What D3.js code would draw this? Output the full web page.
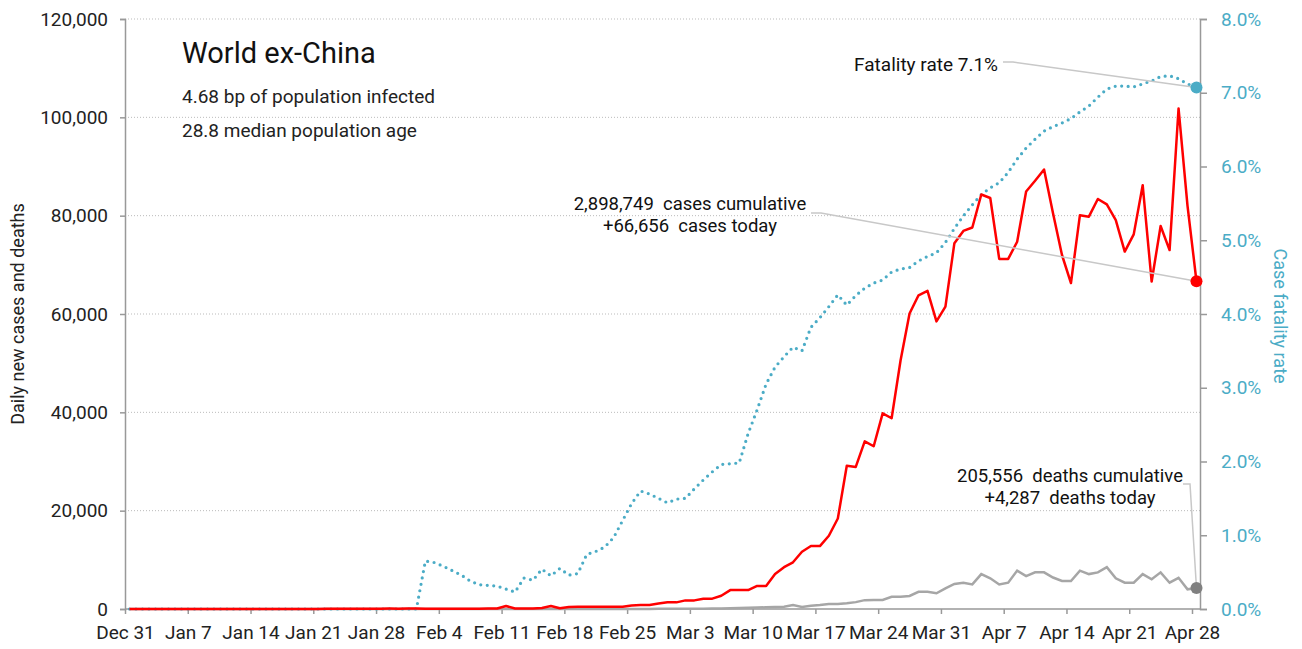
<!DOCTYPE html>
<html>
<head>
<meta charset="utf-8">
<script src="https://cdn.jsdelivr.net/npm/d3@7"></script>
<style>
  body { margin: 0; background: #fff; }
  svg text { font-family: "Roboto", "Liberation Sans", sans-serif; }
</style>
</head>
<body>
<svg id="chart" width="1302" height="649"></svg>
<script>
// day 0 = Dec 31 2019, one value per day through Apr 28 2020
var startDate = new Date(2019, 11, 31);

var newCases = [
  0, 0, 0, 0, 0, 0, 0, 0, 0, 0,
  0, 0, 0, 0, 10, 0, 0, 10, 0, 10,
  20, 20, 30, 30, 40, 40, 50, 60, 70, 80,
  60, 80, 90, 70, 60, 50, 60, 70, 60, 70,
  100, 100, 600, 100, 100, 100, 200, 600, 150, 400,
  450, 450, 450, 450, 450, 450, 700, 800, 800, 1100,
  1350, 1350, 1750, 1750, 2100, 2100, 2700, 3850, 3850, 3850,
  4700, 4700, 7100, 8500, 9500, 11650, 12800, 12800, 14900, 18400,
  29150, 28900, 34100, 33100, 39800, 38800, 50600, 60100, 63800, 64700,
  58500, 61500, 74400, 76900, 77600, 84300, 83600, 71200, 71200, 74700,
  84900, 87100, 89400, 80500, 72000, 66300, 80100, 79800, 83400, 82300,
  79100, 72700, 76200, 86200, 66600, 77900, 73000, 101800, 82000, 66656
];

var newDeaths = [
  0, 0, 0, 0, 0, 0, 0, 0, 0, 0,
  0, 0, 0, 0, 0, 0, 0, 0, 0, 0,
  0, 0, 0, 0, 0, 0, 0, 0, 0, 0,
  0, 0, 0, 1, 0, 0, 0, 0, 0, 0,
  0, 1, 0, 0, 1, 0, 1, 2, 2, 3,
  3, 5, 5, 8, 10, 12, 15, 20, 25, 30,
  35, 40, 50, 55, 70, 90, 120, 150, 200, 250,
  300, 350, 400, 470, 800, 400, 650, 800, 1000, 1000,
  1150, 1400, 1800, 1850, 1850, 2500, 2500, 2650, 3500, 3500,
  3200, 4200, 5100, 5350, 5000, 7100, 6250, 5000, 5350, 7800,
  6700, 7450, 7450, 6400, 5700, 5700, 7800, 7100, 7450, 8500,
  6250, 5350, 5350, 7100, 6050, 7450, 5350, 6350, 4000, 4287
];

// case fatality rate, %
var fatalityRate = [
  0, 0, 0, 0, 0, 0, 0, 0, 0, 0,
  0, 0, 0, 0, 0, 0, 0, 0, 0, 0,
  0, 0, 0, 0, 0, 0, 0, 0, 0, 0,
  0, 0, 0, 0.65, 0.63, 0.58, 0.52, 0.46, 0.38, 0.33,
  0.32, 0.31, 0.27, 0.23, 0.42, 0.39, 0.54, 0.45, 0.55, 0.46,
  0.48, 0.74, 0.78, 0.84, 0.97, 1.2, 1.43, 1.60, 1.56, 1.50,
  1.44, 1.49, 1.50, 1.63, 1.75, 1.86, 1.96, 1.97, 1.98, 2.38,
  2.70, 3.05, 3.28, 3.42, 3.55, 3.50, 3.82, 3.95, 4.10, 4.26,
  4.12, 4.25, 4.35, 4.42, 4.46, 4.57, 4.61, 4.63, 4.72, 4.78,
  4.83, 4.97, 5.16, 5.33, 5.48, 5.62, 5.71, 5.78, 5.92, 6.10,
  6.25, 6.37, 6.48, 6.54, 6.59, 6.65, 6.74, 6.82, 6.94, 7.05,
  7.09, 7.09, 7.08, 7.12, 7.16, 7.22, 7.23, 7.19, 7.12, 7.07
];

var leftTicks = [0, 20000, 40000, 60000, 80000, 100000, 120000];
var rightTicks = [0, 1, 2, 3, 4, 5, 6, 7, 8];
var tickDays = d3.range(0, 120, 7);

var title = "World ex-China";
var subtitles = ["4.68 bp of population infected", "28.8 median population age"];
var casesNote = ["2,898,749  cases cumulative", "+66,656  cases today"];
var deathsNote = ["205,556  deaths cumulative", "+4,287  deaths today"];
var rateNote = "Fatality rate 7.1%";

var svg = d3.select("#chart");
var plotL = 125, plotR = 1200, plotT = 19, plotB = 609;

function dayDate(i, h) { return new Date(2019, 11, 31 + i, h || 0); }

var x = d3.scaleTime()
  .domain([startDate, dayDate(119)])
  .range([plotL, 1192]);
var y = d3.scaleLinear().domain([0, 120000]).range([plotB, plotT]);
var yr = d3.scaleLinear().domain([0, 8]).range([plotB, plotT]);

var blue = "#4bacc6", red = "#ff0000", grey = "#a6a6a6", axisGrey = "#999";

// grid
svg.append("g").selectAll("line")
  .data(leftTicks.filter(function(d) { return d > 0; }))
  .enter().append("line")
    .attr("x1", plotL).attr("x2", plotR)
    .attr("y1", function(d) { return y(d); })
    .attr("y2", function(d) { return y(d); })
    .attr("stroke", "#bbb")
    .attr("stroke-dasharray", "1,2");

// left axis
var gl = svg.append("g").attr("transform", "translate(" + plotL + ",0)")
  .call(d3.axisLeft(y).tickValues(leftTicks).tickSize(5).tickPadding(12)
    .tickFormat(d3.format(",")));
gl.select(".domain").attr("stroke", axisGrey).attr("stroke-width", 1.5);
gl.selectAll(".tick line").attr("stroke", axisGrey).attr("stroke-width", 1.5);
gl.selectAll("text").attr("font-size", 19).attr("fill", "#222");

// right axis
var gr = svg.append("g").attr("transform", "translate(" + plotR + ",0)")
  .call(d3.axisRight(yr).tickValues(rightTicks).tickSize(7).tickPadding(14)
    .tickFormat(function(d) { return d.toFixed(1) + "%"; }));
gr.select(".domain").attr("stroke", axisGrey).attr("stroke-width", 1.5);
gr.selectAll(".tick line").attr("stroke", axisGrey).attr("stroke-width", 1.5);
gr.selectAll("text").attr("font-size", 19).attr("fill", blue);

// bottom axis
var gb = svg.append("g").attr("transform", "translate(0," + plotB + ")")
  .call(d3.axisBottom(x).tickValues(tickDays.map(function(i) { return dayDate(i); }))
    .tickSize(5).tickPadding(12).tickFormat(d3.timeFormat("%b %-d")));
gb.select(".domain").attr("stroke", axisGrey).attr("stroke-width", 1.5)
  .attr("d", "M" + plotL + ",0H" + plotR);
gb.selectAll(".tick line").attr("stroke", axisGrey).attr("stroke-width", 1.5);
gb.selectAll("text").attr("font-size", 19).attr("fill", "#222");

// axis titles
svg.append("text")
  .attr("transform", "translate(24,314) rotate(-90)")
  .attr("text-anchor", "middle").attr("font-size", 18).attr("fill", "#222")
  .text("Daily new cases and deaths");
svg.append("text")
  .attr("transform", "translate(1274,316) rotate(90)")
  .attr("text-anchor", "middle").attr("font-size", 18).attr("fill", blue)
  .text("Case fatality rate");

// lines
var idx = d3.range(120);
var lineCases = d3.line().x(function(i) { return x(dayDate(i, 12)); }).y(function(i) { return y(newCases[i]); });
var lineDeaths = d3.line().x(function(i) { return x(dayDate(i, 12)); }).y(function(i) { return y(newDeaths[i]); });
var lineRate = d3.line().x(function(i) { return x(dayDate(i, 12)); }).y(function(i) { return yr(fatalityRate[i]); });

svg.append("path").datum(idx).attr("d", lineDeaths)
  .attr("fill", "none").attr("stroke", grey).attr("stroke-width", 2.5);
svg.append("path").datum(idx).attr("d", lineRate)
  .attr("fill", "none").attr("stroke", blue).attr("stroke-width", 3.2)
  .attr("stroke-linecap", "round").attr("stroke-dasharray", "0,6.5");
svg.append("path").datum(idx).attr("d", lineCases)
  .attr("fill", "none").attr("stroke", red).attr("stroke-width", 2.5)
  .attr("stroke-linejoin", "round");

// annotation leaders + end dots
var lastX = x(dayDate(119, 12));
function leader(x0, y0, x1, y1) {
  svg.append("path")
    .attr("d", "M" + x0 + "," + y0 + "H" + (x0 + 10) + "L" + x1 + "," + y1)
    .attr("fill", "none").attr("stroke", "#c8c8c8").attr("stroke-width", 1.5);
}
leader(1003, 62, lastX, yr(fatalityRate[119]));
leader(811, 213, lastX, y(newCases[119]));
svg.append("path")
  .attr("d", "M1183,484H1190L" + lastX + "," + y(newDeaths[119]))
  .attr("fill", "none").attr("stroke", "#c8c8c8").attr("stroke-width", 1.5);

svg.append("circle").attr("cx", lastX).attr("cy", yr(fatalityRate[119])).attr("r", 6).attr("fill", blue);
svg.append("circle").attr("cx", lastX).attr("cy", y(newCases[119])).attr("r", 6).attr("fill", red);
svg.append("circle").attr("cx", lastX).attr("cy", y(newDeaths[119])).attr("r", 6).attr("fill", "#808080");

// texts
svg.append("text").attr("x", 182).attr("y", 63).attr("font-size", 29).attr("fill", "#111").text(title);
svg.selectAll(".sub").data(subtitles).enter().append("text")
  .attr("x", 182).attr("y", function(d, i) { return 103 + i * 34; })
  .attr("font-size", 19).attr("fill", "#222").text(function(d) { return d; });

svg.append("text").attr("x", 998).attr("y", 71).attr("text-anchor", "end")
  .attr("font-size", 19).attr("fill", "#111").text(rateNote);
svg.selectAll(".cn").data(casesNote).enter().append("text")
  .attr("x", 690).attr("y", function(d, i) { return 210 + i * 22; })
  .attr("text-anchor", "middle").attr("font-size", 18.5).attr("fill", "#111")
  .attr("xml:space", "preserve").text(function(d) { return d; });
svg.selectAll(".dn").data(deathsNote).enter().append("text")
  .attr("x", 1070).attr("y", function(d, i) { return 482 + i * 22; })
  .attr("text-anchor", "middle").attr("font-size", 18.5).attr("fill", "#111")
  .attr("xml:space", "preserve").text(function(d) { return d; });
</script>
</body>
</html>
